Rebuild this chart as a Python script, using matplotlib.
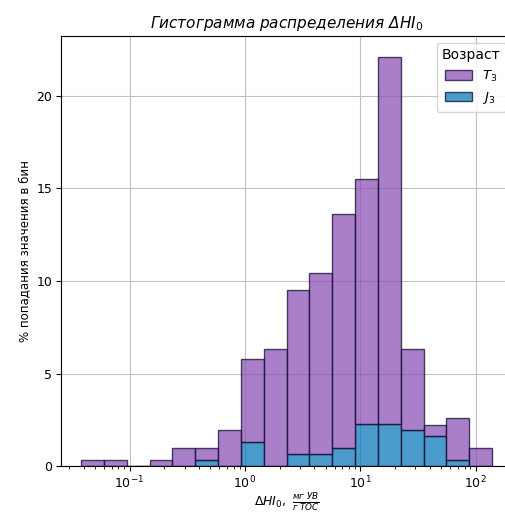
import numpy as np
import matplotlib
matplotlib.use("Agg")
import matplotlib.pyplot as plt

# Histogram of ΔHI0 (percent of samples per log-bin), stacked by age
log_lo, log_hi, n_bins = -1.419, 2.141, 18
j3_pct = [0, 0, 0, 0, 0, 0.34, 0, 1.30, 0, 0.67, 0.67, 1.0, 2.25, 2.25, 1.97, 1.64, 0.34, 0]
total_pct = [0.34, 0.34, 0, 0.34, 0.97, 0.97, 1.97, 5.77, 6.31, 9.5, 10.44, 13.6, 15.5, 22.13, 6.31, 2.24, 2.58, 1.0]
t3_pct = list(np.round(np.array(total_pct) - np.array(j3_pct), 3))
series_labels = ["$T_3$", "$J_3$"]
y_ticks = [0, 5, 10, 15, 20]

fig = plt.figure(figsize=(5.05, 5.13), dpi=100)
ax = fig.add_axes([0.120, 0.0916, 0.895, 0.838])

edges = np.logspace(log_lo, log_hi, n_bins + 1)
widths = np.diff(edges)

c_t3 = "#8e54b8"
c_j3 = "#0f7bbb"
ec = "#0d0d30"

ax.set_axisbelow(True)
ax.grid(True, color="#c0c0c0", linewidth=0.8)

b_j3 = ax.bar(edges[:-1], j3_pct, width=widths, align="edge", color=c_j3,
              edgecolor=ec, linewidth=1.0, alpha=0.75, label=series_labels[1])
b_t3 = ax.bar(edges[:-1], t3_pct, width=widths, bottom=j3_pct, align="edge",
              color=c_t3, edgecolor=ec, linewidth=1.0, alpha=0.75, label=series_labels[0])

ax.set_xscale("log")
span = log_hi - log_lo
ax.set_xlim(10 ** (log_lo - 0.05 * span), 10 ** (log_hi + 0.05 * span))
ax.set_ylim(0, max(total_pct) * 1.05)
ax.set_yticks(y_ticks)
ax.tick_params(labelsize=9, pad=2.5)

ax.set_title("Гистограмма распределения ΔHI$_0$", fontstyle="italic", fontsize=11)
ax.set_xlabel(r"$\Delta HI_0,\ \frac{мг\ УВ}{г\ TOC}$", fontsize=9, labelpad=0)
ax.set_ylabel("% попадания значения в бин", fontsize=8.5)

leg = ax.legend(handles=[b_t3, b_j3], labels=series_labels, title="Возраст",
                loc="upper right", fontsize=9.5, title_fontsize=10)

fig.savefig("out.png", dpi=100)
